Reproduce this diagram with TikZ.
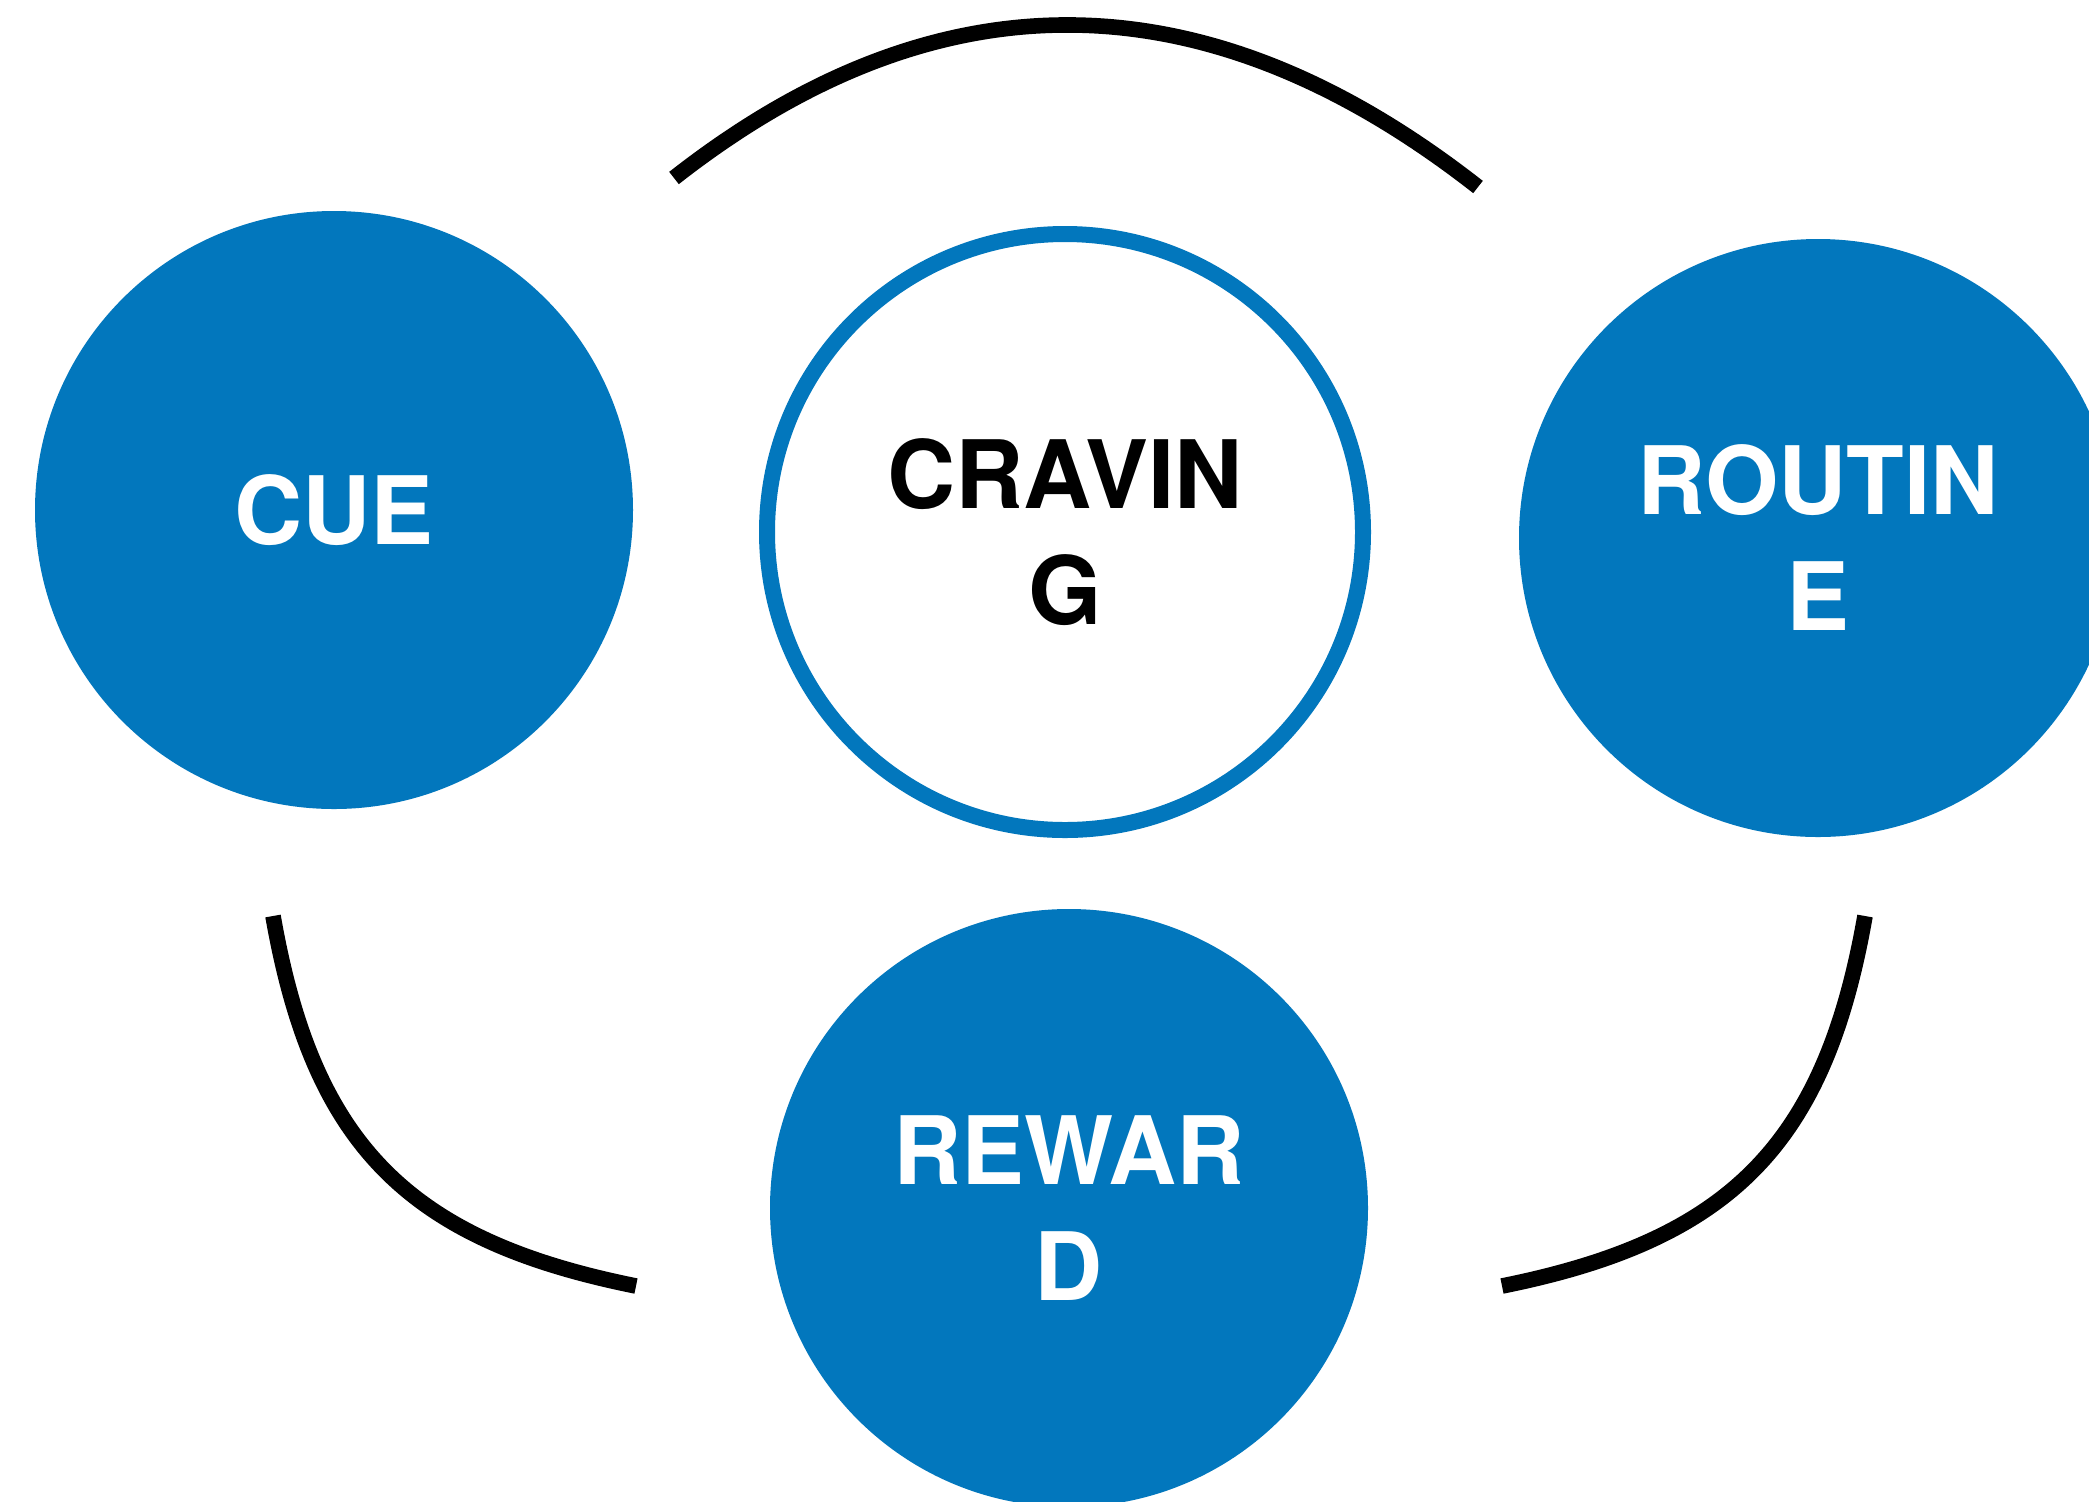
\documentclass[tikz,border=0pt]{standalone}
\usepackage{fontspec}
\newfontfamily\stagefont{texgyreheros}[Extension=.otf, UprightFont=*-bold]
\definecolor{cycblue}{RGB}{2,119,189}
\begin{document}
\begin{tikzpicture}[x=0.5pt,y=-0.5pt,
  stage/.style={circle, minimum size=299pt, inner sep=0pt, align=center,
    font=\stagefont\fontsize{47.2}{58}\selectfont},
  filledstage/.style={stage, fill=cycblue, text=white},
  ringstage/.style={stage, draw=cycblue, line width=8pt, minimum size=298pt, text=black},
  cycarc/.style={draw=black, line width=7.8pt, line cap=butt}]
\clip (0,0) rectangle (2089,1501);
\fill[white] (0,0) rectangle (2089,1501);

\node[filledstage] (cue) at (334,510) {CUE};
\node[ringstage] (craving) at (1065,532) {CRAVIN\\G};
\node[filledstage] (routine) at (1818,538) {ROUTIN\\E};
\node[filledstage] (reward) at (1069,1208) {REWAR\\D};

\coordinate (topA) at (674,178);
\coordinate (topB) at (1478,187);
\coordinate (leftA) at (273,916);
\coordinate (leftB) at (636,1286);
\coordinate (rightA) at (1865,916);
\coordinate (rightB) at (1502,1286);

\draw[cycarc] (topA) .. controls (938,-29) and (1206,-26) .. (topB);
\draw[cycarc] (leftA) .. controls (313,1144) and (407,1240) .. (leftB);
\draw[cycarc] (rightA) .. controls (1825,1144) and (1731,1240) .. (rightB);
\end{tikzpicture}
\end{document}
